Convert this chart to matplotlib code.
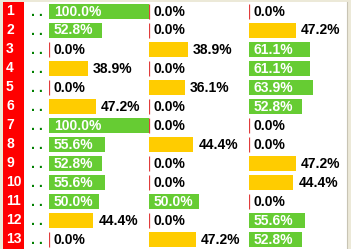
import matplotlib
matplotlib.use("Agg")
import matplotlib.pyplot as plt

# Row ids and the three percentage columns
row_ids = list(range(1, 14))
col1 = [100.0, 52.8, 0.0, 38.9, 0.0, 47.2, 100.0, 55.6, 52.8, 55.6, 50.0, 44.4, 0.0]
col2 = [0.0, 0.0, 38.9, 0.0, 36.1, 0.0, 0.0, 44.4, 0.0, 0.0, 50.0, 0.0, 47.2]
col3 = [0.0, 47.2, 61.1, 61.1, 63.9, 52.8, 0.0, 0.0, 47.2, 44.4, 0.0, 55.6, 52.8]
columns = [col1, col2, col3]

W, H = 351, 249
GREEN = "#66CC33"
YELLOW = "#FFCC00"
RED = "#FF0000"
BEIGE = "#ECE9D8"
FONT = "Liberation Sans"

fig = plt.figure(figsize=(W / 100, H / 100), dpi=100, facecolor=BEIGE)


def px_axes(x0, y0, x1, y1):
    # axes from pixel box (top-left origin)
    return fig.add_axes([x0 / W, 1 - y1 / H, (x1 - x0) / W, (y1 - y0) / H])


# white panel
bg = px_axes(3, 2, 347, 249)
bg.set_facecolor("white")
bg.set_xticks([])
bg.set_yticks([])
for s in bg.spines.values():
    s.set_visible(False)
bg.spines["right"].set_visible(True)
bg.spines["right"].set_color("#C8C4B4")
bg.spines["right"].set_linewidth(0.8)

n = len(row_ids)
ylim = (n - 0.5, -0.5)

# red label strip with row numbers and the green dots
lab = px_axes(3, 2, 24, 249)
lab.set_facecolor(RED)
lab.set_xlim(0, 21)
lab.set_ylim(*ylim)
lab.set_xticks([])
lab.set_yticks([])
for s in lab.spines.values():
    s.set_visible(False)
for i, r in enumerate(row_ids):
    lab.text(3, i - 0.05, str(r), color="white", fontsize=10, fontweight="bold",
             family=FONT, va="center", ha="left")
    lab.text(28, i + 0.05, ". .", color="#008000", fontsize=10, fontweight="bold",
             family=FONT, va="center", ha="left")

# one axes per percentage column, 100 px wide each
for k, vals in enumerate(columns):
    ax = px_axes(49 + 100 * k, 2, 149 + 100 * k, 249)
    ax.set_xlim(0, 100)
    ax.set_ylim(*ylim)
    ax.axis("off")
    ax.patch.set_visible(False)
    colors = [GREEN if v >= 50 else YELLOW for v in vals]
    ax.barh(range(n), vals, height=0.84, color=colors, linewidth=0)
    for i, v in enumerate(vals):
        label = f"{v:.1f}%"
        if v == 0:
            ax.vlines(0.3, i - 0.4, i + 0.4, color="#E03C3C", linewidth=0.9)
            ax.annotate(label, (0, i), xytext=(4, 0), textcoords="offset pixels",
                        color="black", fontsize=10, fontweight="bold", family=FONT,
                        va="center", ha="left")
        elif v >= 50:
            ax.annotate(label, (0, i), xytext=(5, 0), textcoords="offset pixels",
                        color="white", fontsize=10, fontweight="bold", family=FONT,
                        va="center", ha="left")
        else:
            ax.annotate(label, (v, i), xytext=(5, 0), textcoords="offset pixels",
                        color="black", fontsize=10, fontweight="bold", family=FONT,
                        va="center", ha="left")

fig.savefig("out.png", dpi=100, facecolor=BEIGE)
